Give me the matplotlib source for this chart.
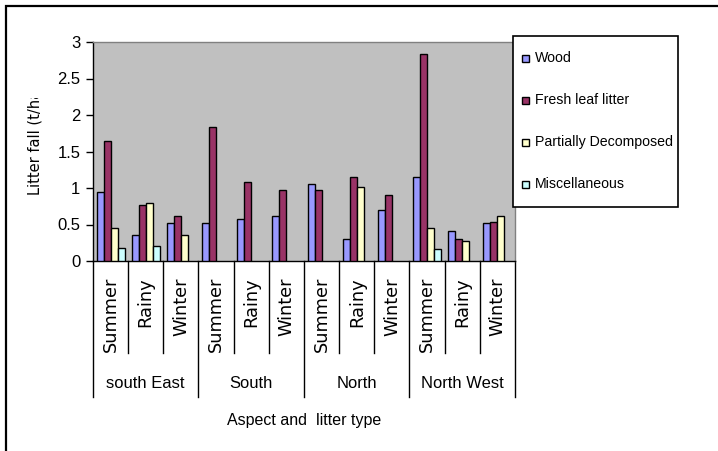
import numpy as np
import matplotlib.pyplot as plt
from matplotlib.patches import Rectangle
from matplotlib.transforms import Bbox
import matplotlib.transforms as mtransforms

# Litter fall per aspect and season [t/ha]
aspects = ["south East", "South", "North", "North West"]
saisons = ["Summer", "Rainy", "Winter"]
series = ["Wood", "Fresh leaf litter", "Partially Decomposed", "Miscellaneous"]

wood = [0.95, 0.36, 0.52, 0.52, 0.57, 0.61, 1.06, 0.30, 0.70, 1.15, 0.41, 0.52]
fresh = [1.65, 0.77, 0.61, 1.84, 1.08, 0.97, 0.97, 1.15, 0.90, 2.84, 0.30, 0.54]
partial = [0.45, 0.79, 0.36, np.nan, np.nan, np.nan, np.nan, 1.01, np.nan, 0.45, 0.27, 0.61]
misc = [0.18, 0.20, np.nan, np.nan, np.nan, np.nan, np.nan, np.nan, np.nan, 0.16, np.nan, np.nan]

yticks = [0, 0.5, 1, 1.5, 2, 2.5, 3]
ytick_labels = ["0", "0.5", "1", "1.5", "2", "2.5", "3"]

couleurs = ["#9999FF", "#993366", "#FFFFCC", "#CCFFFF"]

W, H = 718, 451
fig = plt.figure(figsize=(W / 100, H / 100), dpi=100)

def fx(px):
    return px / W

def fy(py):
    return 1 - py / H

# zone du graphe (pixels)
x0, x1, y0, y1 = 93, 515, 42, 261
ax = fig.add_axes([fx(x0), fy(y1), fx(x1 - x0), (y1 - y0) / H])
ax.set_facecolor("#C0C0C0")

NbreCat = len(aspects) * len(saisons)
x = np.arange(NbreCat)
larg = 0.2
for k, (vals, c) in enumerate(zip([wood, fresh, partial, misc], couleurs)):
    ax.bar(x - 0.3 + k * larg, vals, width=larg, color=c, edgecolor="black",
           linewidth=1.0, zorder=3)

ax.set_xlim(-0.5, NbreCat - 0.5)
ax.set_ylim(0, 3)
ax.set_yticks(yticks)
ax.set_yticklabels(ytick_labels, family="Liberation Sans", fontsize=12)
ax.set_xticks([])
ax.tick_params(axis="y", direction="out", length=5, width=1, color="black", pad=4)

ax.spines["top"].set_color("#808080")
ax.spines["right"].set_color("#808080")
ax.spines["left"].set_color("black")
ax.spines["bottom"].set_color("black")
for s in ax.spines.values():
    s.set_linewidth(1)

# axe des x en deux niveaux : saisons puis aspect
trans = mtransforms.blended_transform_factory(ax.transData, ax.transAxes)
hax = y1 - y0
bas_saison = -(353 - y1) / hax
bas_aspect = -(397 - y1) / hax
for i in range(NbreCat + 1):
    xb = i - 0.5
    yb = bas_aspect if i % 3 == 0 else bas_saison
    ax.plot([xb, xb], [0, yb], color="black", linewidth=1, transform=trans, clip_on=False)

for i in range(NbreCat):
    ax.text(i, -(277 - y1) / hax, saisons[i % 3], rotation=90, ha="center", va="top",
            family="DejaVu Sans", fontsize=12.8, transform=trans)

for j, nom in enumerate(aspects):
    ax.text(3 * j + 1, -(384 - y1) / hax, nom, ha="center", va="center",
            family="Liberation Sans", fontsize=11.9, transform=trans)

ax.text(0.5, -(420 - y1) / hax, "Aspect and  litter type", ha="center", va="center",
        family="Liberation Sans", fontsize=11.5, transform=ax.transAxes)

# titre de l'axe y (coupé en haut)
lab = fig.text(fx(35), fy(140), "Litter fall (t/ha)", rotation=90, ha="center", va="center",
               family="DejaVu Sans", fontsize=10.5)
lab.set_clip_box(Bbox([[0, H - 200], [x0, H - 98]]))
lab.set_clip_on(True)

# légende
lx0, lx1, ly0, ly1 = 513, 678, 36, 207
fig.patches.append(Rectangle((fx(lx0), fy(ly1)), fx(lx1 - lx0), (ly1 - ly0) / H,
                             transform=fig.transFigure, facecolor="white",
                             edgecolor="black", linewidth=1.2, zorder=5))
for k, (nom, c) in enumerate(zip(series, couleurs)):
    yc = 58 + 42 * k
    fig.patches.append(Rectangle((fx(522), fy(yc + 4)), fx(7), 7 / H,
                                 transform=fig.transFigure, facecolor=c,
                                 edgecolor="black", linewidth=1, zorder=6))
    fig.text(fx(535), fy(yc), nom, ha="left", va="center",
             family="Liberation Sans", fontsize=10.2, zorder=6)

# cadre extérieur
fig.patches.append(Rectangle((fx(6), fy(H + 20)), fx(W + 20), (H + 14) / H,
                             transform=fig.transFigure, facecolor="none",
                             edgecolor="black", linewidth=1.6, zorder=4))

fig.savefig("out.png", dpi=100)
